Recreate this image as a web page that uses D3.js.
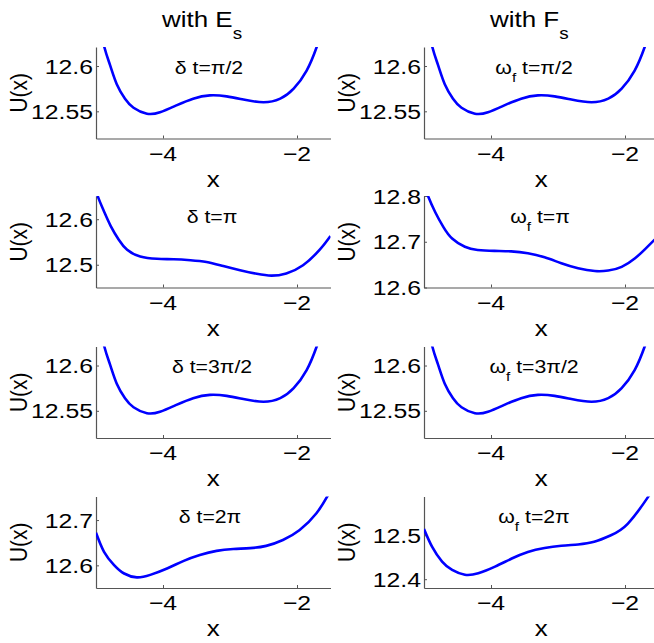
<!DOCTYPE html>
<html>
<head>
<meta charset="utf-8">
<script src="https://cdn.jsdelivr.net/npm/d3@7"></script>
<style>
  html, body { margin: 0; padding: 0; background: #fff; }
  svg { display: block; }
  text { font-family: "Liberation Sans", Arial, Helvetica, sans-serif; fill: #000; }
</style>
</head>
<body>
<svg id="chart" width="654" height="643"></svg>
<script>
// ---------------- DATA ----------------
const columnTitles = ["with E", "with F"];
const columnTitleSubs = ["s", "s"];
const xTicks = [-4, -2];
const xTickLabels = ["\u22124", "\u22122"];
const xDomain = [-5, -1.5];

// t = pi/2 (same curve in both columns) and t = 3pi/2
const xHalfPi = [-5.0, -4.876, -4.79, -4.69, -4.567, -4.44, -4.24, -4.045, -3.80, -3.55, -3.30, -3.05, -2.80, -2.50, -2.25, -2.05, -1.856, -1.706, -1.55];
const uHalfPi = [12.660, 12.621, 12.601, 12.580, 12.564, 12.554, 12.5474, 12.549, 12.5566, 12.564, 12.5676, 12.5665, 12.563, 12.560, 12.564, 12.575, 12.595, 12.621, 12.655];

// delta t = pi
const xDeltaPi = [-5.0, -4.97, -4.88, -4.78, -4.66, -4.535, -4.34, -4.09, -3.84, -3.59, -3.35, -3.10, -2.85, -2.60, -2.38, -2.16, -1.91, -1.66, -1.50];
const uDeltaPi = [12.668, 12.649, 12.617, 12.585, 12.555, 12.533, 12.518, 12.513, 12.512, 12.510, 12.506, 12.497, 12.488, 12.480, 12.476, 12.481, 12.499, 12.533, 12.563];

// omega_f t = pi
const xOmegaPi = [-5.0, -4.94, -4.83, -4.71, -4.58, -4.39, -4.20, -3.95, -3.70, -3.45, -3.20, -2.95, -2.70, -2.45, -2.25, -2.05, -1.85, -1.70, -1.50];
const uOmegaPi = [12.825, 12.800, 12.764, 12.732, 12.707, 12.689, 12.682, 12.680, 12.679, 12.675, 12.666, 12.653, 12.642, 12.636, 12.637, 12.645, 12.664, 12.684, 12.713];

// delta t = 2pi
const xDelta2Pi = [-5.0, -4.88, -4.73, -4.58, -4.39, -4.19, -3.94, -3.69, -3.45, -3.20, -2.95, -2.70, -2.46, -2.21, -1.96, -1.71, -1.55, -1.50];
const uDelta2Pi = [12.672, 12.630, 12.6007, 12.582, 12.5735, 12.579, 12.593, 12.610, 12.623, 12.632, 12.636, 12.638, 12.643, 12.656, 12.678, 12.715, 12.7515, 12.765];

// omega_f t = 2pi
const xOmega2Pi = [-5.0, -4.88, -4.73, -4.58, -4.39, -4.19, -3.94, -3.69, -3.45, -3.20, -2.95, -2.70, -2.46, -2.21, -1.96, -1.66, -1.50];
const uOmega2Pi = [12.514, 12.474, 12.440, 12.421, 12.410, 12.4135, 12.4286, 12.447, 12.462, 12.471, 12.476, 12.479, 12.485, 12.500, 12.526, 12.586, 12.625];

// y limits and ticks per panel (row-major: left, right)
const yLimits = [
  [12.52, 12.621], [12.52, 12.621],
  [12.45, 12.651], [12.6, 12.8],
  [12.52, 12.621], [12.52, 12.621],
  [12.55, 12.752], [12.38, 12.588]
];
const yTicks = [
  [12.55, 12.6], [12.55, 12.6],
  [12.5, 12.6], [12.6, 12.7, 12.8],
  [12.55, 12.6], [12.55, 12.6],
  [12.6, 12.7], [12.4, 12.5]
];
const yTickLabels = [
  ["12.55", "12.6"], ["12.55", "12.6"],
  ["12.5", "12.6"], ["12.6", "12.7", "12.8"],
  ["12.55", "12.6"], ["12.55", "12.6"],
  ["12.6", "12.7"], ["12.4", "12.5"]
];
const annLead = ["\u03b4", "\u03c9", "\u03b4", "\u03c9", "\u03b4", "\u03c9", "\u03b4", "\u03c9"];
const annSub = ["", "f", "", "f", "", "f", "", "f"];
const annRest = [" t=\u03c0/2", " t=\u03c0/2", " t=\u03c0", " t=\u03c0", " t=3\u03c0/2", " t=3\u03c0/2", " t=2\u03c0", " t=2\u03c0"];

const seriesX = [xHalfPi, xHalfPi, xDeltaPi, xOmegaPi, xHalfPi, xHalfPi, xDelta2Pi, xOmega2Pi];
const seriesU = [uHalfPi, uHalfPi, uDeltaPi, uOmegaPi, uHalfPi, uHalfPi, uDelta2Pi, uOmega2Pi];

// ---------------- LAYOUT ----------------
const SX = 1.18;               // horizontal stretch of glyphs seen in the reference
const colLeft = [96, 424];
const plotW = 234.5;
const rowTop = [47, 196, 346.5, 496.5];
const plotH = 91.5;
const annCenter = [[209, 534], [212, 540], [212, 534], [210, 534]];
const annDy = 26.5;

const svg = d3.select("#chart");
const defs = svg.append("defs");

function stext(parent, x, y, anchor, size, rotate) {
  return parent.append("text")
    .attr("transform", `translate(${x},${y}) scale(${SX},1)` + (rotate ? " rotate(-90)" : ""))
    .attr("text-anchor", anchor)
    .attr("font-size", size);
}

// column titles
columnTitles.forEach((t, c) => {
  const tx = stext(svg, colLeft[c] + 66, 27, "start", 22);
  tx.append("tspan").text(t);
  tx.append("tspan").attr("font-size", 16).attr("dy", 11.5).text(columnTitleSubs[c]);
});

for (let p = 0; p < 8; p++) {
  const r = Math.floor(p / 2), c = p % 2;
  const x0 = colLeft[c], y0 = rowTop[r];
  const g = svg.append("g").attr("transform", `translate(${x0},${y0})`);

  const x = d3.scaleLinear().domain(xDomain).range([0, plotW]);
  const y = d3.scaleLinear().domain(yLimits[p]).range([plotH, 0]);

  const clipId = "clip" + p;
  defs.append("clipPath").attr("id", clipId)
    .append("rect").attr("x", x0).attr("y", y0).attr("width", plotW).attr("height", plotH);

  // curve
  const pts = seriesX[p].map((xv, i) => [xv, seriesU[p][i]]);
  const line = d3.line().x(d => x(d[0])).y(d => y(d[1])).curve(d3.curveNatural);
  svg.append("g").attr("clip-path", `url(#${clipId})`)
    .append("path")
    .attr("transform", `translate(${x0},${y0})`)
    .attr("d", line(pts))
    .attr("fill", "none")
    .attr("stroke", "#0000ff")
    .attr("stroke-width", 2.6)
    .attr("stroke-linejoin", "round");

  // axes (MATLAB-like: box off, inward ticks)
  const axColor = "#555";
  const xAxis = d3.axisBottom(x).tickValues(xTicks).tickSizeInner(-3).tickSizeOuter(0).tickFormat("");
  const yAxis = d3.axisLeft(y).tickValues(yTicks[p]).tickSizeInner(-3).tickSizeOuter(0).tickFormat("");
  const gx = g.append("g").attr("transform", `translate(0,${plotH})`).call(xAxis);
  const gy = g.append("g").call(yAxis);
  [gx, gy].forEach(a => {
    a.select(".domain").attr("stroke", axColor).attr("stroke-width", 1.2);
    a.selectAll(".tick line").attr("stroke", axColor);
  });

  // tick labels
  xTicks.forEach((tv, i) => {
    stext(g, x(tv), plotH + 22, "middle", 21).text(xTickLabels[i]);
  });
  yTicks[p].forEach((tv, i) => {
    stext(g, -3, y(tv) + 7.5, "end", 21).text(yTickLabels[p][i]);
  });

  // axis labels
  stext(g, x(-3.25), plotH + 48, "middle", 22).text("x");
  stext(g, -69, plotH / 2, "middle", 21, true).text("U(x)");

  // annotation
  const ax = annCenter[r][c] - x0;
  const at = stext(g, ax, annDy, "middle", 18);
  at.append("tspan").text(annLead[p]);
  if (annSub[p]) {
    at.append("tspan").attr("font-size", 13).attr("dy", 8).text(annSub[p]);
    at.append("tspan").attr("dy", -8).text(annRest[p]);
  } else {
    at.append("tspan").text(annRest[p]);
  }
}
</script>
</body>
</html>
